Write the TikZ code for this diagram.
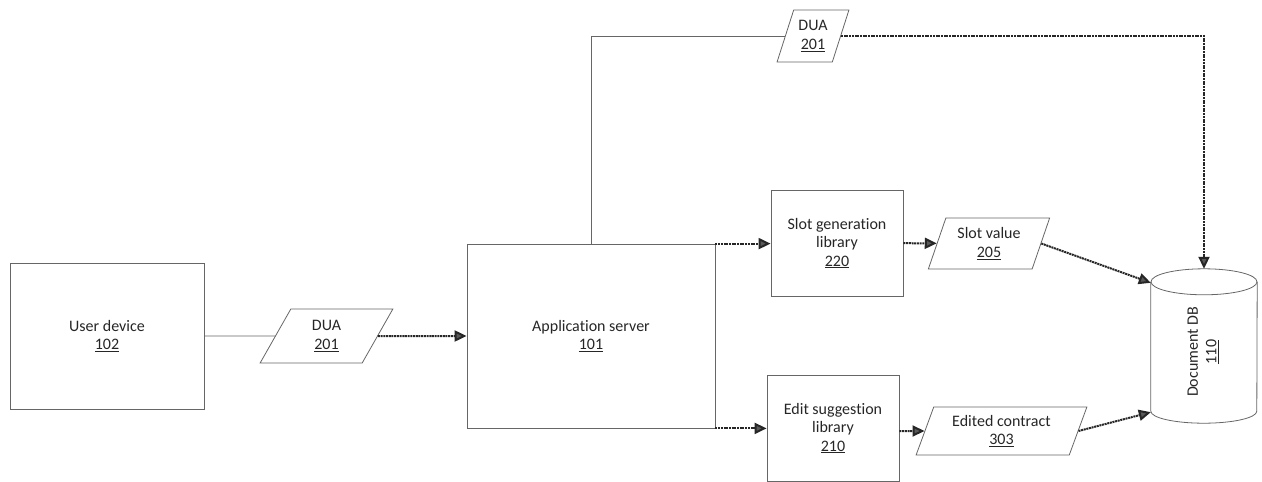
\documentclass[tikz,border=0pt]{standalone}
\usepackage{fontspec}
\setmainfont{Carlito}[Ligatures=NoCommon]
\usetikzlibrary{shapes.geometric,arrows.meta,calc}
\begin{document}
\begin{tikzpicture}[x=1pt,y=-1pt,
  lbl/.style={font=\fontsize{16}{18.5}\selectfont, align=center, text=black!85},
  box/.style={lbl, draw=black!60, line width=0.8pt, rectangle, inner sep=0pt},
  para/.style={lbl, draw=black!60, line width=0.8pt, trapezium, trapezium stretches=true,
     trapezium left angle=68, trapezium right angle=112, inner sep=0pt},
  plain/.style={draw=black!60, line width=0.8pt},
  flow/.style={draw=black!85, line width=2pt, dash pattern=on 2pt off 0.7pt,
     -{Triangle[length=12pt,width=11pt,fill=black!65]}}
]
\useasboundingbox (0,0) rectangle (1262,482);

\node[box, minimum width=194, minimum height=146] (user) at (107,336) {User device\\\underline{102}};
\node[para, minimum width=133, minimum height=54] (dua1) at (326.5,336) {DUA\\\underline{201}};
\node[box, minimum width=248, minimum height=184] (app) at (591,336) {Application server\\\underline{101}};
\node[para, minimum width=72, minimum height=52] (dua2) at (813,36) {DUA\\\underline{201}};
\node[box, minimum width=132, minimum height=106] (slot) at (837,243) {Slot generation\\library\\\underline{220}};
\node[para, minimum width=122, minimum height=51] (sv) at (989,243.5) {Slot value\\\underline{205}};
\node[box, minimum width=132, minimum height=106] (edit) at (833,428) {Edit suggestion\\library\\\underline{210}};
\node[para, minimum width=171, minimum height=48] (ec) at (1001.5,431) {Edited contract\\\underline{303}};
% Document DB cylinder
\node[minimum width=106, minimum height=154, inner sep=0pt] (db) at (1204,346) {};
\draw[plain] ($(db.north)+(0,13)$) ellipse[x radius=53, y radius=13];
\draw[plain] ($(db.north west)+(0,13)$) -- ($(db.south west)+(0,-12)$)
   arc[start angle=180, end angle=0, x radius=53, y radius=12] -- ($(db.north east)+(0,13)$);
\node[lbl, rotate=90] (dbtext) at ($(db.center)+(-1,6)$) {Document DB\\\underline{110}};

\draw[plain] (user) -- (dua1);
\draw[flow] (dua1) -- (app.west |- dua1);
\draw[plain] (app.north) |- (dua2);
\draw[flow] (dua2) -| (db.north);
\draw[flow] (app.north east) -- (app.north east -| slot.west);
\draw[flow] (slot) -- (sv);
\draw[flow] (sv.east) -- ($(db.north west)+(0,14)$);
\draw[flow] (app.south east) -- (app.south east -| edit.west);
\draw[flow] (ec.west -| edit.east) -- (ec);
\draw[flow] (ec.east) -- ($(db.south west)+(0,-11)$);
\end{tikzpicture}
\end{document}
